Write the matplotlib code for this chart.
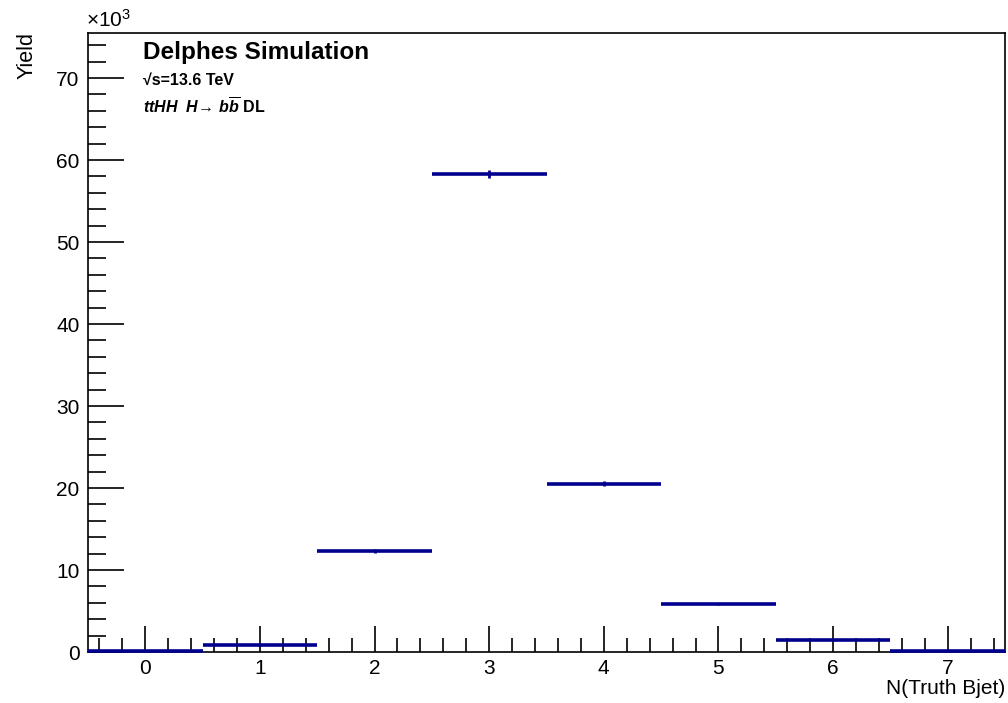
import matplotlib
matplotlib.use("Agg")
import matplotlib.pyplot as plt
from matplotlib.ticker import MultipleLocator, FixedLocator
import numpy as np

plt.rcParams['font.family'] = ['Liberation Sans', 'DejaVu Sans']
plt.rcParams['mathtext.fontset'] = 'custom'
plt.rcParams['mathtext.rm'] = 'Liberation Sans'
plt.rcParams['mathtext.it'] = 'Liberation Sans:italic'
plt.rcParams['mathtext.bf'] = 'Liberation Sans:bold'
plt.rcParams['mathtext.bfit'] = 'Liberation Sans:bold:italic'
plt.rcParams['mathtext.fallback'] = 'stixsans'

bins = [0, 1, 2, 3, 4, 5, 6, 7]
yields_k = [0.15, 0.9, 12.3, 58.3, 20.55, 5.85, 1.45, 0.15]
errors_k = [0.05, 0.12, 0.25, 0.45, 0.3, 0.15, 0.08, 0.05]
xlabel = "N(Truth Bjet)"
ylabel = "Yield"

color = "#00008f"

fig = plt.figure(figsize=(10.08, 7.03), dpi=100)
ax = fig.add_axes([88/1008, 1-652/703, (1005-88)/1008, (652-33)/703])

for b, y, e in zip(bins, yields_k, errors_k):
    ax.hlines(y, b - 0.5, b + 0.5, color=color, lw=2.6, zorder=3, clip_on=False)
    ax.vlines(b, y - e, y + e, color=color, lw=2.0, zorder=3)

ax.set_xlim(-0.5, 7.5)
ax.set_ylim(0, 75.5)

ax.xaxis.set_major_locator(FixedLocator(bins))
ax.xaxis.set_minor_locator(MultipleLocator(0.2))
ax.yaxis.set_major_locator(MultipleLocator(10))
ax.yaxis.set_minor_locator(MultipleLocator(2))

ax.tick_params(axis='x', which='major', direction='in', length=19, width=1.2, labelsize=15, pad=5, top=False)
ax.tick_params(axis='x', which='minor', direction='in', length=10, width=1.2, top=False)
ax.tick_params(axis='y', which='major', direction='in', length=26, width=1.2, labelsize=15, pad=6, right=False)
ax.tick_params(axis='y', which='minor', direction='in', length=13, width=1.2, right=False)

for s in ax.spines.values():
    s.set_linewidth(1.2)

fig.text(1005/1008, 1-689/703, xlabel, ha='right', va='center', fontsize=15)
fig.text(27/1008, 1-32/703, ylabel, ha='center', va='top', rotation=90, fontsize=15.5)
fig.text(86/1008, 1-20/703, r"$\times$10$^{3}$", ha='left', va='center', fontsize=15)

fig.text(143/1008, 1-52/703, "Delphes Simulation",
         ha='left', va='center', fontsize=17.5, fontweight='bold')
fig.text(143/1008, 1-80/703, "\u221As=13.6 TeV",
         ha='left', va='center', fontsize=11.5, fontweight='bold',
         family=['Liberation Sans', 'DejaVu Sans'])
fig.text(143/1008, 1-107/703,
         r"$\mathbfit{ttHH}$  $\mathbfit{H}\!\rightarrow\, \mathbfit{b}\overline{\mathbfit{b}}$ DL",
         ha='left', va='center', fontsize=11.5, fontweight='bold')

fig.savefig("out.png", dpi=100)
